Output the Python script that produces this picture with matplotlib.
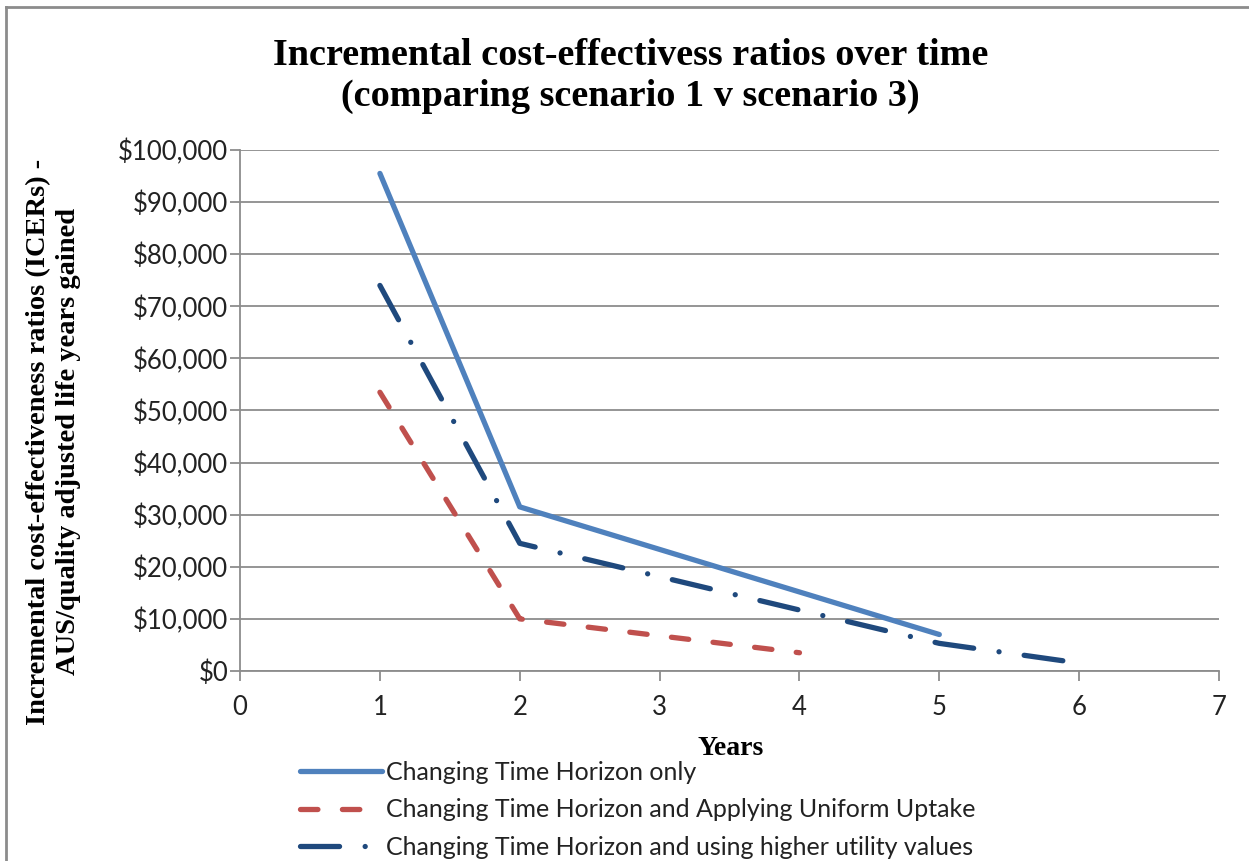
import matplotlib.pyplot as plt
from matplotlib.lines import Line2D
from matplotlib.ticker import FuncFormatter, MultipleLocator

# ICER results by time horizon (years) for each sensitivity scenario
years_time_only = [1, 2, 5]
icer_time_only = [95500, 31500, 7000]

years_uniform = [1, 2, 4]
icer_uniform = [53500, 10000, 3500]

years_utility = [1, 2, 5, 5.9]
icer_utility = [74000, 24500, 5300, 1900]

labels = [
    "Changing Time Horizon only",
    "Changing Time Horizon and Applying Uniform Uptake",
    "Changing Time Horizon and using higher utility values",
]
colors = ["#4f81bd", "#c0504d", "#1f497d"]

fig = plt.figure(figsize=(12.49, 8.61), dpi=100)
ax = fig.add_axes([0.1922, 0.2207, 0.7838, 0.6051])

lw = 3.8
dash_red = (3.3, 4.64)
dash_navy = (7.4, 4.85, 0.01, 4.8)
ax.plot(years_time_only, icer_time_only, color=colors[0], lw=lw,
        solid_capstyle="round", solid_joinstyle="round", label=labels[0])
ax.plot(years_uniform, icer_uniform, color=colors[1], lw=lw,
        dashes=dash_red, dash_capstyle="round", dash_joinstyle="round",
        label=labels[1])
ax.plot(years_utility, icer_utility, color=colors[2], lw=lw,
        dashes=dash_navy, dash_capstyle="round", dash_joinstyle="round",
        label=labels[2])

ax.set_xlim(0, 7)
ax.set_ylim(0, 100000)
ax.xaxis.set_major_locator(MultipleLocator(1))
ax.yaxis.set_major_locator(MultipleLocator(10000))
ax.yaxis.set_major_formatter(FuncFormatter(lambda v, p: f"${v:,.0f}"))

grid_c = "#8c8c8c"
ax.grid(axis="y", color=grid_c, lw=1.3)
ax.set_axisbelow(True)
for side in ["top", "right"]:
    ax.spines[side].set_visible(False)
for side in ["left", "bottom"]:
    ax.spines[side].set_color(grid_c)
    ax.spines[side].set_linewidth(1.3)
ax.tick_params(axis="both", direction="out", length=7, width=1.3,
               color=grid_c, labelcolor="#222222", labelsize=18.5)
ax.tick_params(axis="y", pad=1.5)
ax.tick_params(axis="x", pad=10)
for t in ax.get_xticklabels() + ax.get_yticklabels():
    t.set_fontfamily("Lato")

fig.text(0.505, 0.912, "Incremental cost-effectivess ratios over time\n"
         "(comparing scenario 1 v scenario 3)",
         ha="center", va="center", fontsize=27.5, fontweight="bold",
         family="Liberation Serif", linespacing=1.22)

fig.text(0.043, 0.487, "Incremental cost-effectiveness ratios (ICERs) -\n"
         "AUS/quality adjusted life years gained",
         ha="center", va="center", rotation=90, fontsize=20.5,
         fontweight="bold", family="Liberation Serif", linespacing=1.25)

fig.text(0.585, 0.131, "Years", ha="center", va="center", fontsize=20,
         fontweight="bold", family="Liberation Serif")

handles = [
    Line2D([], [], color=colors[0], lw=lw, solid_capstyle="round"),
    Line2D([], [], color=colors[1], lw=lw, dashes=dash_red,
           dash_capstyle="round"),
    Line2D([], [], color=colors[2], lw=lw, dashes=dash_navy,
           dash_capstyle="round"),
]
fig.legend(handles, labels, loc="upper left", bbox_to_anchor=(0.24, 0.116),
           frameon=False, handlelength=3.3, handletextpad=0.15,
           labelspacing=0.57, borderpad=0, borderaxespad=0,
           prop={"family": "Lato", "size": 18}, labelcolor="#222222")

# outer chart border
fig.add_artist(Line2D([0.0048, 0.0048], [0, 0.992], transform=fig.transFigure,
                      color="#8c8c8c", lw=2))
fig.add_artist(Line2D([0.0048, 1], [0.992, 0.992], transform=fig.transFigure,
                      color="#8c8c8c", lw=2))

fig.savefig("out.png", dpi=100)
